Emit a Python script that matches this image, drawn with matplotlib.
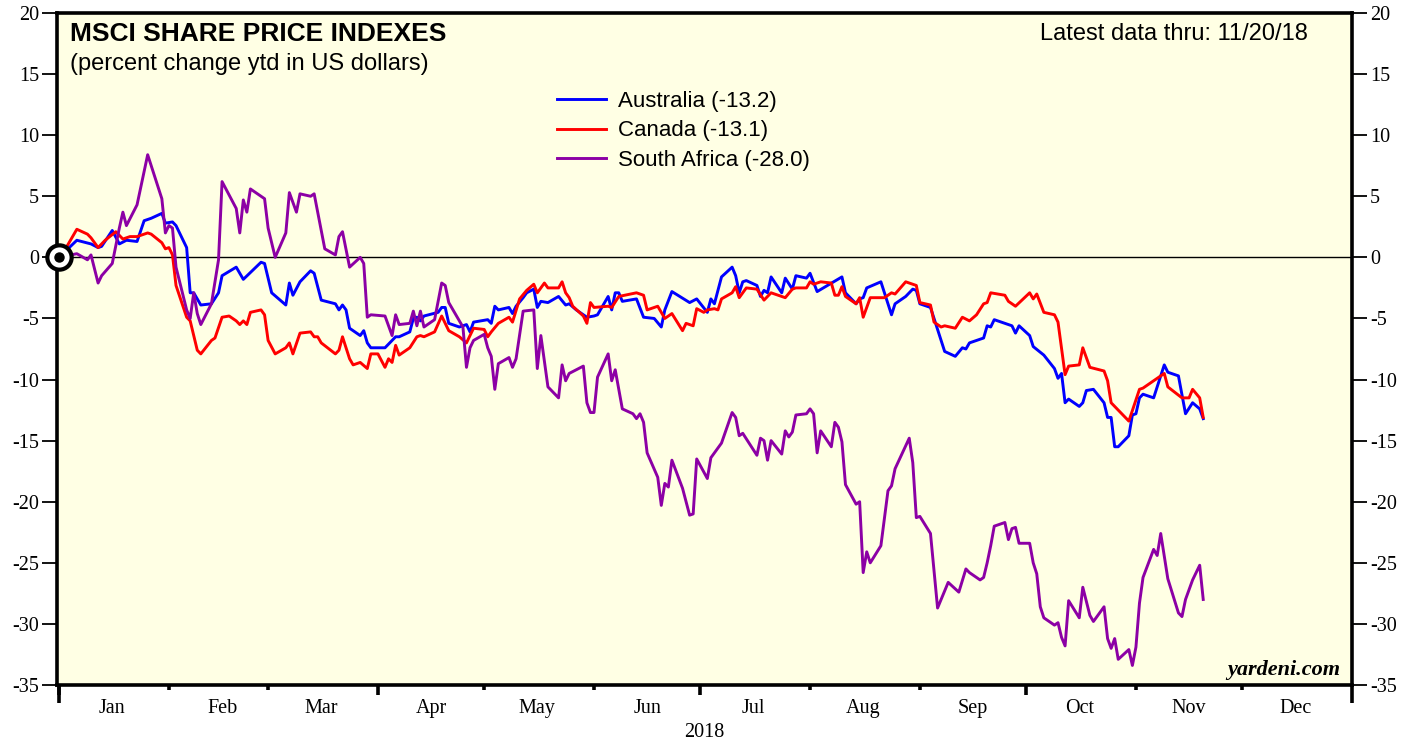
import matplotlib
matplotlib.use("Agg")
import matplotlib.pyplot as plt
import matplotlib.dates as mdates
import numpy as np
import pandas as pd

# ---------------- data (days since 2018-01-01, percent change ytd) ----------------
aus_day = [0, 5, 9, 11, 12, 15, 17, 19, 22, 24, 26, 29, 30, 32, 33, 36, 37, 38, 40, 43, 45, 46, 50, 52, 57, 58,
           60, 62, 64, 65, 66, 68, 71, 72, 74, 78, 79, 80, 81, 82, 85, 86, 87, 88, 92, 95, 96, 99, 100, 101, 102, 103,
           107, 108, 109, 110, 113, 115, 116, 117, 121, 122, 123, 124, 127, 128, 129, 131, 132, 134, 135, 136, 138,
           141, 143, 144, 146, 149, 151, 152, 155, 156, 157, 158, 159, 163, 165, 168, 170, 171, 173, 178, 180,
           183, 184, 185, 187, 190, 191, 192, 193, 194, 197, 198, 199, 200, 201, 204, 205, 207, 208, 211, 212, 214,
           221, 222, 225, 226, 227, 228, 232, 235, 236, 239, 241, 242, 243, 246, 250, 253, 255, 256, 257, 261, 262,
           263, 264, 269, 270, 271, 274, 275, 278, 281, 282, 283, 284, 285, 288, 289, 290, 292, 295, 296, 297, 298,
           299, 302, 303, 304, 305, 306, 309, 312, 313, 316, 318, 320, 322, 323]
aus_val = [0.0, 1.4, 1.1, 0.8, 0.9, 2.2, 1.1, 1.4, 1.3, 3.0, 3.2, 3.6, 2.8, 2.9, 2.6, 0.8, -2.9, -2.9, -3.9, -3.8,
           -2.9, -1.5, -0.8, -1.8, -0.4, -0.5,
           -2.9, -3.4, -3.9, -2.1, -3.1, -2.0, -1.1, -1.3, -3.5, -3.8, -4.3, -3.9, -4.3, -5.8, -6.4, -6.0, -7.0, -7.4,
           -7.4, -6.5, -6.5, -6.1, -5.0, -4.9, -5.2, -4.8,
           -4.5, -4.1, -4.1, -5.4, -5.7, -5.5, -6.1, -5.3, -5.1, -5.4, -4.0, -4.3, -4.1, -4.6, -4.0, -3.3, -2.9, -2.6,
           -4.1, -3.6, -3.7,
           -3.2, -3.9, -3.8, -4.3, -4.9, -4.8, -4.7, -3.2, -4.3, -2.9, -2.9, -3.6, -3.4, -4.9, -5.0, -5.7, -4.3, -2.8,
           -3.7, -3.4,
           -4.5, -3.4, -3.8, -1.6, -0.8, -1.5, -2.9, -2.0, -1.9, -2.3, -3.2, -2.7, -2.9, -1.6, -2.9, -1.7, -2.6, -1.5,
           -1.7, -1.3, -2.8,
           -1.6, -2.9, -3.8, -3.4, -3.3, -2.5, -2.0, -4.7, -3.8, -3.2, -2.6, -2.7, -3.8, -4.1, -7.7, -8.1, -7.4, -7.5,
           -7.0, -6.6, -5.6,
           -5.7, -5.1, -5.6, -6.2, -5.6, -6.4, -7.3, -8.0, -9.1, -9.9, -9.5, -11.9, -11.6, -12.2, -11.9, -10.9, -10.8,
           -11.9, -13.1, -13.1, -15.5,
           -15.5, -14.6, -12.9, -12.8, -11.5, -11.2, -11.5, -8.8, -9.4, -9.7, -12.8, -11.9, -12.4, -13.2]

can_day = [0, 2, 5, 8, 9, 11, 13, 16, 18, 20, 22, 25, 26, 29, 30, 31, 32, 33, 36, 37, 39, 40, 43, 44, 46, 48, 50,
           51, 52, 53, 54, 57, 58, 59, 61, 64, 65, 66, 68, 71, 72, 73, 74, 78, 79, 80, 82, 83, 85, 87, 88, 90, 92,
           93, 94, 95, 96, 99, 101, 102, 103, 106, 108, 110, 113, 115, 117, 120, 121, 122, 124, 127, 128, 130, 132,
           134, 135, 137, 138, 141, 142, 143, 144, 145, 148, 149, 150, 151, 155, 156, 158, 163, 165, 166, 169, 171,
           173, 176, 177, 179, 180, 182, 183, 185, 186, 187, 190, 191, 192, 194, 197, 199, 201, 205, 207, 208, 211,
           212, 213, 215, 218, 219, 220, 221, 222, 225, 226, 227, 229, 233, 235, 236, 239, 242, 243, 246, 247, 249,
           250, 253, 255, 257, 259, 261, 262, 263, 267, 268, 270, 274, 275, 276, 278, 281, 282, 284, 285, 288, 289,
           291, 295, 296, 297, 302, 305, 306, 309, 312, 313, 317, 319, 320, 322, 323]
can_val = [0.0, 0.8, 2.3, 1.9, 1.6, 0.8, 1.4, 2.1, 1.5, 1.7, 1.7, 2.0, 1.9, 1.2, 0.7, 0.8, 0.2, -2.3, -4.9, -5.2,
           -7.6, -7.9, -6.8, -6.6, -4.9, -4.8, -5.2,
           -5.5, -5.2, -5.5, -4.5, -4.3, -4.7, -6.8, -7.9, -7.4, -7.0, -7.9, -6.2, -6.1, -6.5, -6.5, -7.0, -7.9, -7.6,
           -6.5, -8.3, -8.8, -8.6, -9.1, -7.9, -7.9, -9.0,
           -8.3, -8.6, -7.2, -8.0, -7.4, -6.5, -6.4, -6.5, -6.1, -4.8, -6.0, -6.5, -7.0, -5.8, -5.9, -6.5, -6.1, -5.4,
           -4.9, -5.3, -3.4, -2.7,
           -2.2, -2.9, -2.1, -2.5, -2.5, -2.0, -2.9, -3.3, -4.0, -4.8, -5.4, -3.7, -4.1, -4.0, -4.1, -3.2, -2.9, -3.1,
           -4.3, -4.0, -5.0,
           -4.6, -6.0, -5.4, -5.6, -4.2, -4.5, -4.3, -4.2, -4.3, -3.4, -2.9, -2.4, -3.3, -2.5, -2.6, -3.5, -2.9, -3.3,
           -2.6, -2.5, -2.5,
           -2.0, -2.2, -2.0, -2.1, -3.1, -3.1, -2.4, -3.2, -3.8, -3.3, -4.9, -3.3, -3.3, -2.9, -3.0, -2.0, -2.3, -3.7,
           -3.9, -5.3, -5.7,
           -5.6, -5.8, -4.9, -5.2, -4.7, -3.8, -3.7, -2.9, -3.1, -3.6, -4.0, -2.9, -3.4, -3.0, -4.5, -4.7, -5.3, -9.6,
           -8.9, -8.8, -7.4,
           -9.0, -9.3, -10.1, -11.9, -13.4, -10.8, -10.7, -10.1, -9.5, -10.6, -11.5, -11.5, -10.8, -11.5, -13.1]

saf_day = [0, 5, 8, 9, 11, 12, 15, 17, 18, 19, 22, 25, 29, 30, 31, 32, 33, 36, 37, 38, 39, 40, 43, 45, 46, 50, 51,
           52, 53, 54, 58, 59, 61, 64, 65, 67, 68, 71, 72, 75, 78, 79, 80, 82, 85, 86, 87, 88, 92, 94, 95, 96, 99,
           100, 101, 102, 103, 106, 108, 109, 110, 114, 115, 116, 117, 120, 121, 122, 123, 124, 127, 128, 129, 131,
           134, 135, 136, 138, 141, 142, 143, 144, 148, 149, 150, 151, 152, 155, 156, 157, 159, 162, 163, 164, 165,
           166, 169, 170, 171, 172, 173, 176, 178, 179, 180, 183, 184, 187, 190, 191, 192, 193, 197, 198, 199, 200,
           201, 204, 205, 206, 207, 208, 211, 212, 213, 214, 215, 218, 219, 220, 221, 222, 225, 226, 227, 228, 229,
           232, 234, 235, 236, 240, 241, 242, 243, 246, 248, 251, 254, 256, 257, 260, 261, 262, 263, 264, 267, 268,
           269, 270, 271, 274, 275, 276, 277, 278, 281, 282, 283, 284, 285, 288, 289, 291, 292, 295, 296, 297, 298,
           299, 302, 303, 304, 305, 306, 309, 310, 311, 313, 316, 317, 318, 320, 322, 323]
saf_val = [0.0, 0.3, -0.2, 0.2, -2.1, -1.5, -0.5, 2.4, 3.7, 2.6, 4.3, 8.4, 4.8, 2.0, 2.6, 2.4, -0.8, -4.3, -5.0,
           -2.9, -4.6, -5.5, -3.8, -0.2, 6.2, 4.0, 2.0,
           4.7, 3.7, 5.6, 4.8, 2.4, 0.0, 2.0, 5.3, 3.7, 5.2, 5.0, 5.2, 0.7, 0.2, 1.7, 2.1, -0.8, 0.0, -0.5, -4.9, -4.7,
           -4.8, -6.4, -4.7, -5.5, -5.4,
           -4.4, -5.6, -4.4, -5.7, -5.1, -2.1, -2.3, -3.7, -5.7, -9.0, -7.4, -6.8, -6.3, -7.4, -8.1, -10.8, -8.7, -8.2,
           -9.0, -8.3, -4.4,
           -4.3, -9.1, -6.4, -10.6, -11.5, -8.8, -10.1, -9.5, -8.9, -11.9, -12.7, -12.7, -9.8, -7.9, -10.1, -9.2, -12.4,
           -12.8, -13.2, -12.8, -13.5,
           -16.0, -18.0, -20.3, -18.5, -18.8, -16.6, -18.9, -21.1, -21.0, -16.5, -18.1, -16.4, -15.2, -12.7, -13.1,
           -14.6, -14.4, -16.2, -14.8, -15.0, -16.6,
           -15.0, -16.1, -14.2, -14.7, -14.3, -12.9, -12.8, -12.4, -12.8, -16.0, -14.2, -15.5, -13.5, -13.9, -15.1,
           -18.6, -20.2, -20.0, -25.8, -24.1, -25.0,
           -23.6, -19.1, -18.7, -17.3, -14.8, -16.8, -21.3, -21.2, -22.6, -28.7, -26.6, -27.4, -25.5, -25.8, -26.4,
           -26.2, -25.0, -23.6, -22.0, -21.7, -23.1,
           -22.2, -22.1, -23.4, -23.4, -25.0, -25.9, -28.6, -29.5, -30.1, -29.9, -31.1, -31.8, -28.1, -29.5, -27.0,
           -29.3, -29.8, -28.6, -31.2, -32.0, -31.2,
           -32.9, -32.1, -33.4, -31.9, -28.3, -26.2, -23.9, -24.4, -22.6, -26.3, -29.1, -29.4, -28.0, -26.4, -25.2,
           -28.0]

series_names = ["Australia (-13.2)", "Canada (-13.1)", "South Africa (-28.0)"]
month_labels = ["Jan", "Feb", "Mar", "Apr", "May", "Jun", "Jul", "Aug", "Sep", "Oct", "Nov", "Dec"]
y_ticks = list(range(-35, 21, 5))

# ---------------- figure ----------------
start = pd.Timestamp("2018-01-01")


def to_dates(days):
    return start + pd.to_timedelta(np.asarray(days, dtype=float), unit="D")


fig = plt.figure(figsize=(14.17, 7.42), dpi=100)
ax = fig.add_axes([57 / 1417, 57 / 742, 1295 / 1417, 672 / 742])
ax.set_facecolor("#FFFFE4")

colors = ["#0000FF", "#FF0000", "#8C00A5"]
data = [(aus_day, aus_val), (can_day, can_val), (saf_day, saf_val)]
lines = []
for (d, v), c, name in zip(data, colors, series_names):
    ln, = ax.plot(to_dates(d), v, color=c, lw=2.1, label=name, zorder=3)
    lines.append(ln)

ax.axhline(0, color="black", lw=1.0, zorder=2)

# circle marker at origin
ax.plot([start], [0], marker="o", ms=17.5, mfc="white", mec="black", mew=3.0, clip_on=False, zorder=6)
ax.plot([start], [0], marker="o", ms=6.5, mfc="black", mec="black", clip_on=False, zorder=7)

ax.set_ylim(-35, 20)
ax.set_xlim(start - pd.Timedelta(days=0.6), pd.Timestamp("2019-01-01"))

for sp in ax.spines.values():
    sp.set_linewidth(2.6)

serif = "Liberation Serif"
sans = "Liberation Sans"

ax.set_yticks(y_ticks)
ax.set_yticklabels([str(t) for t in y_ticks], fontfamily=serif, fontsize=14.5)
ax.tick_params(axis="y", which="major", direction="out", length=11, width=1.3,
               left=True, right=True, labelleft=True, labelright=True, pad=2)

# x ticks: quarter starts major, month starts minor
quarters = [pd.Timestamp(f"2018-{m:02d}-01") for m in (1, 4, 7, 10)]
months = [pd.Timestamp(f"2018-{m:02d}-01") for m in range(1, 13)]
ax.set_xticks(mdates.date2num(quarters))
ax.set_xticks(mdates.date2num(months), minor=True)
ax.tick_params(axis="x", which="major", direction="out", length=7, width=2.6, labelbottom=False)
ax.tick_params(axis="x", which="minor", direction="out", length=3.5, width=2.6)

# long year ticks
sec_year = ax.secondary_xaxis("bottom")
sec_year.set_xticks(mdates.date2num([pd.Timestamp("2018-01-01"), pd.Timestamp("2019-01-01")]))
sec_year.tick_params(axis="x", direction="out", length=13, width=2.6, labelbottom=False)
sec_year.spines["bottom"].set_visible(False)

# month labels centred in each month
sec_lab = ax.secondary_xaxis("bottom")
mids = [pd.Timestamp(f"2018-{m:02d}-16") for m in range(1, 13)]
sec_lab.set_xticks(mdates.date2num(mids))
sec_lab.set_xticklabels(month_labels, fontfamily=serif, fontsize=14.5)
sec_lab.tick_params(axis="x", length=0, pad=10)
sec_lab.spines["bottom"].set_visible(False)
sec_lab.set_xlabel("2018", fontfamily=serif, fontsize=14.5, labelpad=4)

# texts
ax.text(0.010, 0.969, "MSCI SHARE PRICE INDEXES", transform=ax.transAxes, ha="left", va="center",
        fontfamily=sans, fontweight="bold", fontsize=19)
ax.text(0.010, 0.9245, "(percent change ytd in US dollars)", transform=ax.transAxes, ha="left", va="center",
        fontfamily=sans, fontsize=17)
ax.text(0.966, 0.969, "Latest data thru: 11/20/18", transform=ax.transAxes, ha="right", va="center",
        fontfamily=sans, fontsize=17)
ax.text(0.9907, 0.0223, "yardeni.com", transform=ax.transAxes, ha="right", va="center",
        fontfamily=serif, fontweight="bold", fontstyle="italic", fontsize=16)

leg = ax.legend(handles=lines, loc="upper left", bbox_to_anchor=(0.386, 0.884), frameon=False,
                borderpad=0, borderaxespad=0, handlelength=2.2, handletextpad=0.55, labelspacing=0.38,
                prop={"family": sans, "size": 16})
for h in leg.get_lines():
    h.set_linewidth(2.1)

fig.savefig("out.png", dpi=100, facecolor="white")
